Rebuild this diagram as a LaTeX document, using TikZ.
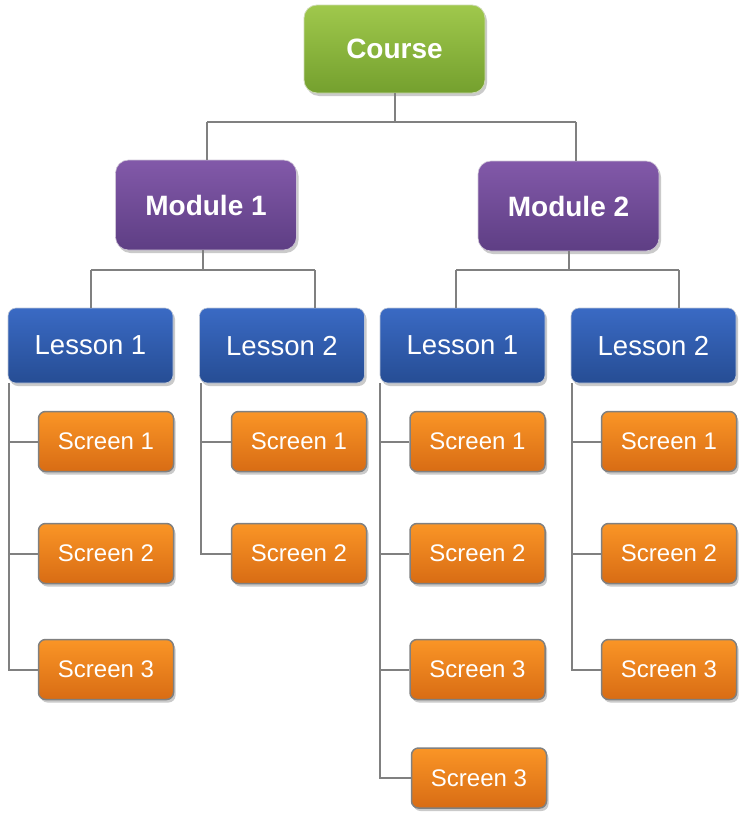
\documentclass[tikz,border=0pt]{standalone}
\usepackage{fontspec}
\setmainfont{Liberation Sans}
\usetikzlibrary{shadows}
\definecolor{grtop}{HTML}{A0C84C}
\definecolor{grbot}{HTML}{74A02E}
\definecolor{putop}{HTML}{8259A9}
\definecolor{pubot}{HTML}{5E3E84}
\definecolor{bltop}{HTML}{3A6AC4}
\definecolor{blbot}{HTML}{264D94}
\definecolor{ortop}{HTML}{FA9526}
\definecolor{orbot}{HTML}{D86C14}
\definecolor{lnc}{HTML}{808080}
\begin{document}
\begin{tikzpicture}[x=1pt,y=1pt,
  boxbase/.style={text=white, inner sep=0pt, text depth=0pt,
    drop shadow={shadow xshift=2pt,shadow yshift=-3pt,opacity=0.35,fill=black!60}},
  coursebox/.style={boxbase, rounded corners=13pt, top color=grtop, bottom color=grbot,
    draw=grtop!80!black!40, line width=0.8pt,
    minimum width=181pt, minimum height=88pt, font=\fontsize{28}{32}\selectfont\bfseries},
  modbox/.style={boxbase, rounded corners=13pt, top color=putop, bottom color=pubot,
    draw=putop!70!black!30, line width=0.6pt,
    minimum width=181pt, minimum height=90pt, font=\fontsize{28}{32}\selectfont\bfseries},
  lessbox/.style={boxbase, rounded corners=8pt, top color=bltop, bottom color=blbot,
    draw=bltop!60!black!30, line width=0.6pt,
    minimum width=165pt, minimum height=75pt, font=\fontsize{27.5}{32}\selectfont},
  scrbox/.style={boxbase, rounded corners=7pt, top color=ortop, bottom color=orbot,
    draw=lnc, line width=1.5pt,
    minimum width=135pt, minimum height=60pt, font=\fontsize{24}{28}\selectfont},
  conn/.style={draw=lnc, line width=2pt}
]
\useasboundingbox (0,0) rectangle (746,-822);

\coordinate (ja) at (207,-122);
\coordinate (jb) at (576,-122);
\coordinate (ka) at (91,-270);
\coordinate (kb) at (315,-270);
\coordinate (kc) at (456,-270);
\coordinate (kd) at (679,-270);

\node[coursebox] (course) at (394.5,-49) {Course};
\node[modbox] (m1) at (206,-205) {Module 1};
\node[modbox] (m2) at (568.5,-206) {Module 2};

\node[lessbox] (l11) at (90.5,-345.5) {Lesson 1};
\node[lessbox] (l12) at (282,-345.5) {Lesson 2};
\node[lessbox] (l21) at (462.5,-345.5) {Lesson 1};
\node[lessbox] (l22) at (653.5,-345.5) {Lesson 2};

\node[scrbox] (s111) at (106,-441.5) {Screen 1};
\node[scrbox] (s112) at (106,-553.5) {Screen 2};
\node[scrbox] (s113) at (106,-669.5) {Screen 3};
\node[scrbox] (s121) at (299,-441.5) {Screen 1};
\node[scrbox] (s122) at (299,-553.5) {Screen 2};
\node[scrbox] (s211) at (477.5,-441.5) {Screen 1};
\node[scrbox] (s212) at (477.5,-553.5) {Screen 2};
\node[scrbox] (s213) at (477.5,-669.5) {Screen 3};
\node[scrbox] (s214) at (479,-778) {Screen 3};
\node[scrbox] (s221) at (669,-441.5) {Screen 1};
\node[scrbox] (s222) at (669,-553.5) {Screen 2};
\node[scrbox] (s223) at (669,-669.5) {Screen 3};

% course to modules
\draw[conn] (course.south) -- (course.south |- ja);
\draw[conn] (ja) -- (jb);
\draw[conn] (ja) -- (ja |- m1.north);
\draw[conn] (jb) -- (jb |- m2.north);

% modules to lessons
\coordinate (mv) at (203,-270);
\draw[conn] (m1.south -| mv) -- (mv);
\draw[conn] (ka) -- (kb);
\draw[conn] (ka) -- (ka |- l11.north);
\draw[conn] (kb) -- (kb |- l12.north);
\draw[conn] (m2.south) -- (m2.south |- kc);
\draw[conn] (kc) -- (kd);
\draw[conn] (kc) -- (kc |- l21.north);
\draw[conn] (kd) -- (kd |- l22.north);

% lessons to screens
\coordinate (v1) at (9,0);
\coordinate (v2) at (201,0);
\coordinate (v3) at (380,0);
\coordinate (v4) at (572,0);
\draw[conn] (l11.south -| v1) |- (s113.west);
\draw[conn] (v1 |- s111.west) -- (s111.west);
\draw[conn] (v1 |- s112.west) -- (s112.west);
\draw[conn] (l12.south -| v2) |- (s122.west);
\draw[conn] (v2 |- s121.west) -- (s121.west);
\draw[conn] (l21.south -| v3) |- (s214.west);
\draw[conn] (v3 |- s211.west) -- (s211.west);
\draw[conn] (v3 |- s212.west) -- (s212.west);
\draw[conn] (v3 |- s213.west) -- (s213.west);
\draw[conn] (l22.south -| v4) |- (s223.west);
\draw[conn] (v4 |- s221.west) -- (s221.west);
\draw[conn] (v4 |- s222.west) -- (s222.west);
\end{tikzpicture}
\end{document}
